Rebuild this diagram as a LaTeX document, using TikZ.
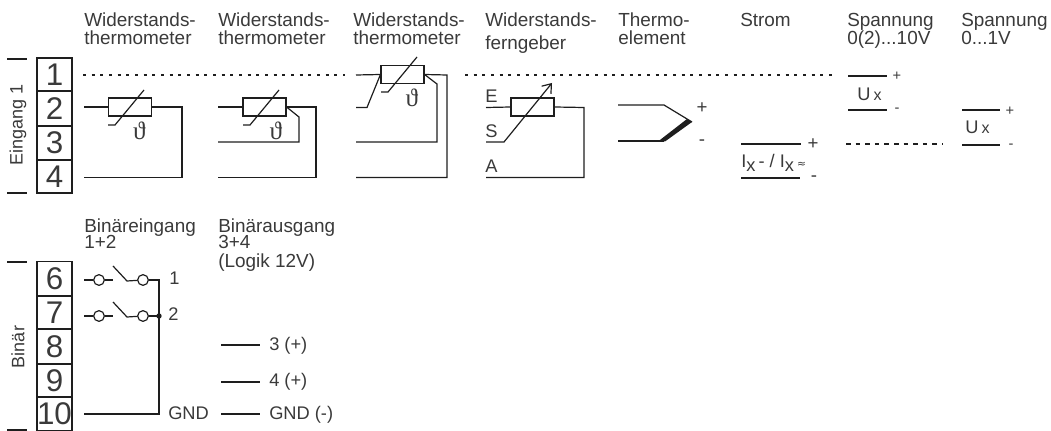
\documentclass[tikz,border=0pt]{standalone}
\usepackage{fontspec}
\usetikzlibrary{arrows.meta}
\setmainfont{Liberation Sans}
\newfontfamily\thetafont{Liberation Serif}
\newfontfamily\symfont{DejaVu Sans}
\definecolor{ink}{HTML}{1E1E1E}
\definecolor{txt}{HTML}{3A3A3A}
\tikzset{
  x=0.75pt,y=-0.75pt,
  wire/.style={draw=ink,line width=0.9pt,line join=miter},
  part/.style={draw=ink,line width=1.1pt,fill=white,minimum width=32pt,minimum height=13.5pt,inner sep=0pt},
  cell/.style={draw=ink,line width=1.3pt,minimum width=26.2pt,inner sep=0pt,font=\fontsize{23.5}{23.5}\selectfont,text=txt},
  lbl/.style={text=txt,inner sep=0pt,anchor=base west,align=left,font=\fontsize{14.2}{13.5}\selectfont},
  small/.style={text=txt,inner sep=0pt,anchor=base west,font=\fontsize{13.7}{13.7}\selectfont},
  tiny/.style={text=txt,inner sep=0pt,font=\fontsize{11}{11}\selectfont},
  side/.style={text=txt,inner sep=0pt,rotate=90,font=\fontsize{13.5}{13.5}\selectfont},
  dots/.style={draw=ink,line width=1.1pt,dash pattern=on 2.2pt off 4.3pt},
  dash3/.style={draw=ink,line width=1.1pt,dash pattern=on 3.5pt off 3.7pt},
  ctc/.style={draw=ink,fill=white,line width=0.9pt,circle,minimum size=8pt,inner sep=0pt},
  thet/.style={text=txt,inner sep=0pt,font=\fontsize{19}{19}\thetafont},
}
\begin{document}
\begin{tikzpicture}
\useasboundingbox (0,0) rectangle (1051,431);
% titles
\node[lbl] (t1) at (84,45) {Widerstands-\\thermometer};
\node[lbl] (t2) at (218,45) {Widerstands-\\thermometer};
\node[lbl] (t3) at (353,45) {Widerstands-\\thermometer};
\node[lbl] (t4) at (485,50) {Widerstands-\\[3.75pt]ferngeber};
\node[lbl] (t5) at (618,45) {Thermo-\\element};
\node[lbl] (t6) at (740,27) {Strom};
\node[lbl] (t7) at (847,45) {Spannung\\0(2)...10V};
\node[lbl] (t8) at (961,45) {Spannung\\0...1V};
\node[lbl] (t9) at (84,249) {Binäreingang\\[-1.5pt]1+2};
\node[lbl] (t10) at (218,268) {Binärausgang\\[-1.5pt]3+4\\[0.75pt](Logik 12V)};
% terminals upper
\node[cell,minimum height=25pt] (c1) at (54.5,74.5) {1};
\node[cell,minimum height=25.5pt] (c2) at (54.5,108.5) {2};
\node[cell,minimum height=25.5pt] (c3) at (54.5,143) {3};
\node[cell,minimum height=25pt] (c4) at (54.5,176.5) {4};
\node[side] (e1) at (18,125) {Eingang 1};
\coordinate (ua) at (7,59); \coordinate (ub) at (27,59);
\coordinate (uc) at (7,193); \coordinate (ud) at (27,193);
\draw[wire,line width=1.3pt] (ua)--(ub) (uc)--(ud);
% dotted
\draw[dots] (83,75)--(345,75);
\draw[dots] (465,75)--(835,75);
\draw[dash3] (846,144)--(943,144);
% RTD 1
\node[part] (r1) at (130,107) {};
\draw[wire] (84,107)--(r1.west);
\draw[wire] (r1.east)--(182,107)--(182,177.5)--(84,177.5);
\draw[wire] (108,125)--(115,125)--(144,90);
\node[thet] (th1) at (139.5,131) {ϑ};
% RTD 2
\node[part] (r2) at (264.5,107) {};
\draw[wire] (218,107)--(r2.west);
\draw[wire] (r2.east)--(316,107)--(316,177.5)--(218,177.5);
\draw[wire] (r2.east)--(299,117)--(299,142)--(218,142);
\draw[wire] (243,125)--(250,125)--(279,90);
\node[thet] (th2) at (276,131) {ϑ};
% RTD 3
\node[part] (r3) at (402.5,74.5) {};
\draw[wire] (356,75)--(r3.west);
\draw[wire] (r3.east)--(447,75)--(447,177.5)--(356,177.5);
\draw[wire] (r3.east)--(437,84)--(437,142)--(356,142);
\draw[wire] (r3.west)--(367,107.5)--(356,107.5);
\draw[wire] (381,92)--(388,92)--(417,57);
\node[thet] (th3) at (412,98) {ϑ};
% Ferngeber
\node[part] (r4) at (532.5,107) {};
\draw[wire] (486,107.5)--(r4.west);
\draw[wire] (r4.east)--(584,107.5)--(584,177.5)--(486,177.5);
\draw[wire,-{Straight Barb[length=6pt,width=9pt]}] (486,142)--(504,142)--(552,83);
\node[small] (le) at (485,103) {E};
\node[small] (ls) at (485,138) {S};
\node[small] (la) at (485,173) {A};
% Thermoelement
\coordinate (tc) at (692,122);
\draw[wire] (618,105)--(664,105)--(tc);
\draw[wire] (618,141)--(664,141);
\fill[ink] (658,141.5)--(665,141.5)--(692,122)--(687,119)--cycle;
\node[small,anchor=center,font=\fontsize{14}{14}\selectfont] (p1) at (702,108) {+};
\node[small,anchor=center,font=\fontsize{14}{14}\selectfont] (m1) at (702,143) {-};
% Strom
\draw[wire] (741,144)--(801,144);
\draw[wire] (741,178)--(800,178);
\node[small,anchor=center,font=\fontsize{14}{14}\selectfont] (p2) at (813,144) {+};
\node[small,anchor=center,font=\fontsize{14}{14}\selectfont] (m2) at (814,179) {-};
\node[small,font=\fontsize{13.7}{13.7}\selectfont] (ix) at (741,168) {I\raisebox{-2.5pt}{x}\,- / I\raisebox{-2.5pt}{x}\,{\fontsize{8}{8}\symfont≈}};
% Spannung 1
\draw[wire] (848,76)--(887,76);
\draw[wire] (848,110)--(887,110);
\node[tiny] (p3) at (897,76) {+};
\node[tiny] (m3) at (897,110) {-};
\node[small] (u1) at (857,101) {U\,{\fontsize{12}{12}\selectfont x}};
% Spannung 2
\draw[wire] (962,110)--(1000,110);
\draw[wire] (962,145)--(1000,145);
\node[tiny] (p4) at (1010,111) {+};
\node[tiny] (m4) at (1011,146) {-};
\node[small] (u2) at (965,134) {U\,{\fontsize{12}{12}\selectfont x}};
% terminals lower
\node[cell,minimum height=25.5pt] (c6) at (54.5,278.5) {6};
\node[cell,minimum height=25pt] (c7) at (54.5,312.5) {7};
\node[cell,minimum height=25.5pt] (c8) at (54.5,346.5) {8};
\node[cell,minimum height=25pt] (c9) at (54.5,380.5) {9};
\node[cell,minimum height=25pt] (c10) at (54.5,414) {10};
\node[side] (b1) at (18,347) {Binär};
\coordinate (la1) at (7,262); \coordinate (lb1) at (27,262);
\coordinate (la2) at (7,430); \coordinate (lb2) at (27,430);
\draw[wire,line width=1.3pt] (la1)--(lb1) (la2)--(lb2);
% switches
\node[ctc] (s1a) at (99,280) {};
\node[ctc] (s1b) at (143,280) {};
\node[ctc] (s2a) at (99,316) {};
\node[ctc] (s2b) at (143,316) {};
\coordinate (jn) at (159,316);
\coordinate (top) at (159,280);
\coordinate (gnd) at (159,414);
\draw[wire] (84,280)--(s1a) (s1a)--(113,280);
\draw[wire] (84,316)--(s2a) (s2a)--(113,316);
\draw[wire] (113,266)--(127,281)--(s1b);
\draw[wire] (113,302)--(127,317)--(s2b);
\draw[wire] (s1b)--(top)--(gnd)--(84,414);
\draw[wire] (s2b)--(jn);
\fill[ink] (jn) circle (2pt);
\node[small] (n1) at (169,285) {1};
\node[small] (n2) at (168,321) {2};
\node[small] (g1) at (168,420) {GND};
\draw[wire] (221,345)--(260,345);
\draw[wire] (221,382)--(260,382);
\draw[wire] (221,414)--(260,414);
\node[small] (o1) at (269,351) {3 (+)};
\node[small] (o2) at (269,387) {4 (+)};
\node[small] (o3) at (269,419) {GND (-)};
\end{tikzpicture}
\end{document}
